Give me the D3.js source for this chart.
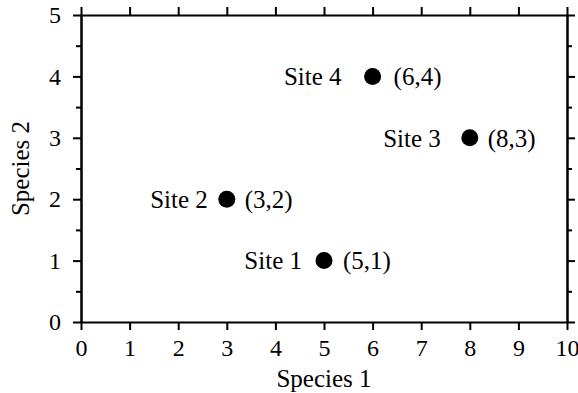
<!DOCTYPE html>
<html>
<head>
<meta charset="utf-8">
<script src="https://cdn.jsdelivr.net/npm/d3@7"></script>
<style>
  body { margin: 0; background: #fff; }
  svg { display: block; font-family: "Liberation Serif", "Times New Roman", serif; }
  text { fill: #000; }
</style>
</head>
<body>
<svg id="chart" width="578" height="393"></svg>
<script>
// data
const sites = ["Site 1", "Site 2", "Site 3", "Site 4"];
const species1 = [5, 3, 8, 6];
const species2 = [1, 2, 3, 4];
const xTicks = [0, 1, 2, 3, 4, 5, 6, 7, 8, 9, 10];
const yTicks = [0, 1, 2, 3, 4, 5];
const yMinorTicks = [0.5, 1.5, 2.5, 3.5, 4.5];

const width = 578, height = 393;
const margin = { top: 15, right: 11, bottom: 71, left: 81 };

const svg = d3.select("#chart");

const x = d3.scaleLinear().domain([0, 10]).range([margin.left, width - margin.right]);
const y = d3.scaleLinear().domain([0, 5]).range([height - margin.bottom, margin.top]);

function styleAxis(g) {
  g.attr("font-family", "Liberation Serif").attr("font-size", 24);
  g.select(".domain").attr("stroke-width", 2).attr("stroke", "#000");
  g.selectAll(".tick line").attr("stroke-width", 2).attr("stroke", "#000");
  g.selectAll(".tick text").attr("fill", "#000");
}

// bottom axis with labels
svg.append("g")
  .attr("transform", `translate(0,${y(0)})`)
  .call(d3.axisBottom(x).tickValues(xTicks).tickSize(8).tickSizeOuter(0).tickPadding(9).tickFormat(d3.format("d")))
  .call(styleAxis);

// top axis, ticks only
svg.append("g")
  .attr("transform", `translate(0,${y(5)})`)
  .call(d3.axisTop(x).tickValues(xTicks).tickSize(8).tickSizeOuter(0).tickFormat(""))
  .call(styleAxis);

// left axis with labels + minor ticks
svg.append("g")
  .attr("transform", `translate(${x(0)},0)`)
  .call(d3.axisLeft(y).tickValues(yTicks).tickSize(8).tickSizeOuter(0).tickPadding(12).tickFormat(d3.format("d")))
  .call(styleAxis);
svg.append("g")
  .attr("transform", `translate(${x(0)},0)`)
  .call(d3.axisLeft(y).tickValues(yMinorTicks).tickSize(5).tickSizeOuter(0).tickFormat(""))
  .call(styleAxis);

// right axis, ticks only
svg.append("g")
  .attr("transform", `translate(${x(10)},0)`)
  .call(d3.axisRight(y).tickValues(yTicks).tickSize(8).tickSizeOuter(0).tickFormat(""))
  .call(styleAxis);
svg.append("g")
  .attr("transform", `translate(${x(10)},0)`)
  .call(d3.axisRight(y).tickValues(yMinorTicks).tickSize(5).tickSizeOuter(0).tickFormat(""))
  .call(styleAxis);

// axis titles
svg.append("text")
  .attr("x", (x(0) + x(10)) / 2)
  .attr("y", 387)
  .attr("text-anchor", "middle")
  .attr("font-size", 25)
  .text("Species 1");

svg.append("text")
  .attr("transform", `translate(29,${(y(0) + y(5)) / 2}) rotate(-90)`)
  .attr("text-anchor", "middle")
  .attr("font-size", 25)
  .text("Species 2");

// points
const pts = sites.map((s, i) => ({ name: s, a: species1[i], b: species2[i] }));

// label gaps (px from the dot) as placed in the original
const nameGap = { "Site 1": 22, "Site 2": 19, "Site 3": 29, "Site 4": 31 };
const coordGap = { "Site 1": 19, "Site 2": 18, "Site 3": 18, "Site 4": 21 };

const g = svg.append("g");
g.selectAll("circle")
  .data(pts)
  .join("circle")
  .attr("cx", d => x(d.a))
  .attr("cy", d => y(d.b))
  .attr("r", 8.5)
  .attr("fill", "#000");

g.selectAll("text.name")
  .data(pts)
  .join("text")
  .attr("class", "name")
  .attr("x", d => x(d.a) - nameGap[d.name])
  .attr("y", d => y(d.b))
  .attr("dy", "0.35em")
  .attr("text-anchor", "end")
  .attr("font-size", 25)
  .text(d => d.name);

g.selectAll("text.coord")
  .data(pts)
  .join("text")
  .attr("class", "coord")
  .attr("x", d => x(d.a) + coordGap[d.name])
  .attr("y", d => y(d.b))
  .attr("dy", "0.35em")
  .attr("text-anchor", "start")
  .attr("font-size", 25)
  .text(d => `(${d.a},${d.b})`);
</script>
</body>
</html>
